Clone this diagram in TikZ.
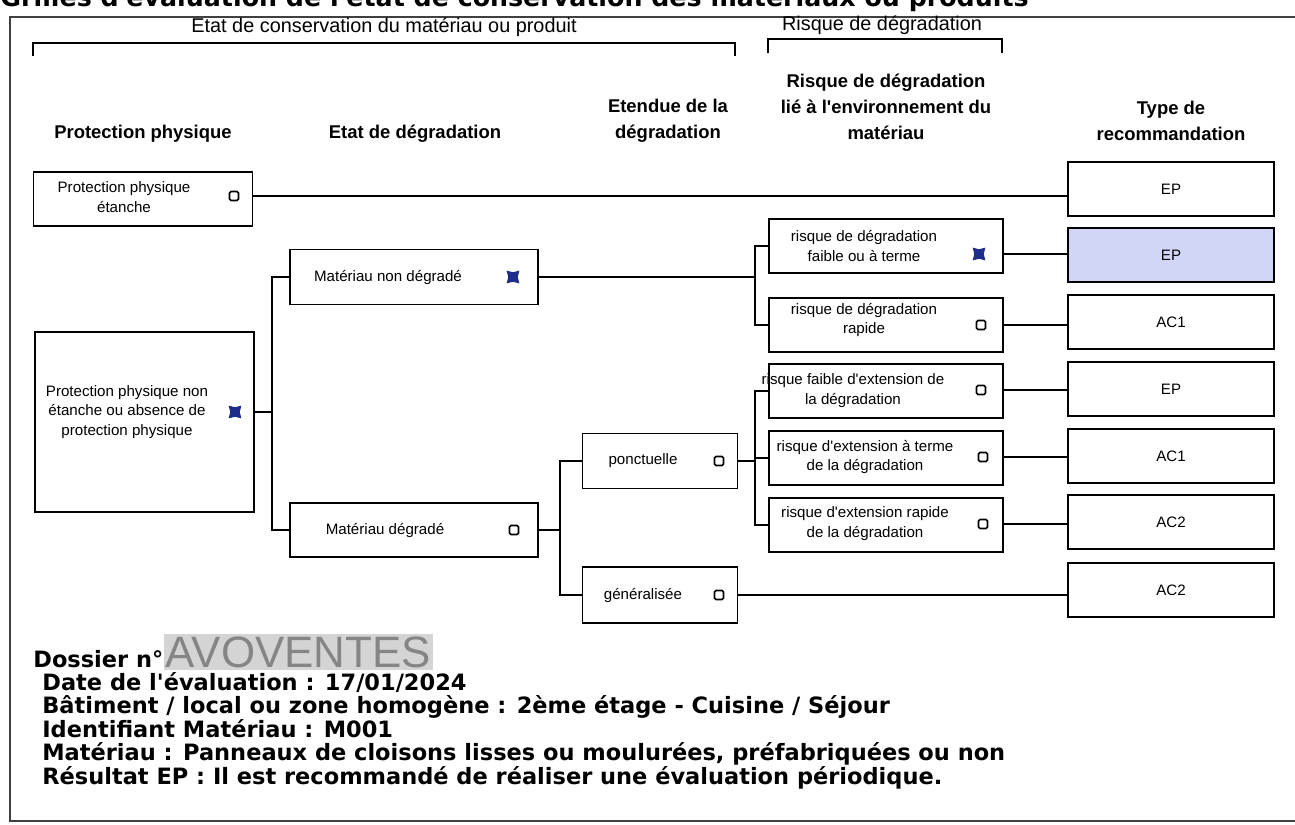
\documentclass[tikz,border=0pt]{standalone}
\usepackage{fontspec}
\newfontfamily\libsans{Liberation Sans}
\newfontfamily\verdfont{DejaVu Sans}
\usetikzlibrary{positioning,shapes.geometric}

\definecolor{xblue}{HTML}{1E2D8C}
\definecolor{epfill}{HTML}{D2D6F6}
\definecolor{avogray}{HTML}{D4D4D4}

\tikzset{
	box/.style={draw,line width=1.1pt,inner sep=0pt},
	rbox/.style={box,minimum width=4.68cm,minimum height=1.08cm},
	rec/.style={box,minimum width=4.12cm,minimum height=1.08cm,font=\libsans\fontsize{8.6}{11.3}\selectfont},
	btxt/.style={font=\libsans\fontsize{8.6}{11.3}\selectfont,align=center,inner sep=0pt},
	chk/.style={draw,line width=0.9pt,rounded corners=0.8pt,minimum size=0.18cm,inner sep=0pt},
	chkx/.style={star,star points=4,star point ratio=1.9,shape border rotate=45,fill=xblue,minimum size=0.36cm,inner sep=0pt},
	head/.style={font=\libsans\fontsize{10.5}{14.7}\selectfont\bfseries,align=center},
	brlab/.style={font=\libsans\fontsize{11.3}{13}\selectfont},
	link/.style={line width=1.1pt},
	info/.style={anchor=base west,inner sep=0pt,font=\verdfont\bfseries\fontsize{12.8}{15}\selectfont}
}

\begin{document}
\begin{tikzpicture}[x=0.02cm,y=-0.02cm]
				\useasboundingbox (0,0) rectangle (1295,825);

				% title, cut by the top of the page
				\node[info] (title) at (0,6) {\fontsize{14.4}{16}\selectfont Grilles d'évaluation de l'état de conservation des matériaux ou produits};
				\draw[line width=1pt,black!75] (10,17) rectangle (1310,821);

				% groups
				\node[brlab] (b1) at (384,27) {Etat de conservation du matériau ou produit};
				\node[brlab] (b2) at (882,25) {Risque de dégradation};
				\draw[link] (33,56) |- (735,43) -- (735,56);
				\draw[link] (768,53) |- (1002,39) -- (1002,53);

				% column heads
				\node[head] (h1) at (143,134) {Protection physique};
				\node[head] (h2) at (415,134) {Etat de dégradation};
				\node[head] (h3) at (668,121) {Etendue de la\\dégradation};
				\node[head] (h4) at (886,107) {Risque de dégradation\\lié à l'environnement du\\matériau};
				\node[head] (h5) at (1171,121) {Type de\\recommandation};

				% protection physique
				\node[box,minimum width=4.38cm,minimum height=1.08cm] (ppe) at (143,199) {};
				\node[btxt] (ppe-t) at (124,197) {Protection physique\\étanche};
				\node[chk] (ppe-c) at (234,196) {};
				\node[box,minimum width=4.38cm,minimum height=3.6cm] (ppn) at (144.5,422) {};
				\node[btxt] (ppn-t) at (127,412) {Protection physique non\\étanche ou absence de\\protection physique};
				\node[chkx] (ppn-c) at (235,412) {};

				% etat de degradation
				\node[box,minimum width=4.96cm,minimum height=1.1cm] (mnd) at (414,277) {};
				\node[btxt] (mnd-t) at (388,277) {Matériau non dégradé};
				\node[chkx] (mnd-c) at (513,277) {};
				\node[box,minimum width=4.96cm,minimum height=1.08cm] (md) at (414,530) {};
				\node[btxt] (md-t) at (385,530) {Matériau dégradé};
				\node[chk] (md-c) at (514,530) {};

				% etendue
				\node[box,minimum width=3.1cm,minimum height=1.1cm] (pon) at (660,461) {};
				\node[btxt] (pon-t) at (643,461) {ponctuelle};
				\node[chk] (pon-c) at (719,461) {};
				\node[box,minimum width=3.1cm,minimum height=1.12cm] (gen) at (660,595) {};
				\node[btxt] (gen-t) at (643,595) {généralisée};
				\node[chk] (gen-c) at (719,595) {};

				% risque
				\node[rbox] (k1) at (886,246) {};
				\node[btxt] (k1-t) at (864,246) {risque de dégradation\\faible ou à terme};
				\node[chkx] (k1-c) at (979,254) {};
				\node[rbox] (k2) at (886,325) {};
				\node[btxt] (k2-t) at (864,320) {risque de dégradation\\rapide};
				\node[chk] (k2-c) at (981,325) {};
				\node[rbox] (k3) at (886,391) {};
				\node[btxt] (k3-t) at (853,391) {risque faible d'extension de\\la dégradation};
				\node[chk] (k3-c) at (981,390) {};
				\node[rbox] (k4) at (886,458) {};
				\node[btxt] (k4-t) at (865,457) {risque d'extension à terme\\de la dégradation};
				\node[chk] (k4-c) at (983,457) {};
				\node[rbox] (k5) at (886,525) {};
				\node[btxt] (k5-t) at (865,524) {risque d'extension rapide\\de la dégradation};
				\node[chk] (k5-c) at (983,524) {};

				% recommandation
				\node[rec] (r1) at (1171,189) {EP};
				\node[rec,fill=epfill] (r2) at (1171,255) {EP};
				\node[rec] (r3) at (1171,322) {AC1};
				\node[rec] (r4) at (1171,389) {EP};
				\node[rec] (r5) at (1171,456) {AC1};
				\node[rec] (r6) at (1171,522) {AC2};
				\node[rec] (r7) at (1171,590) {AC2};

				\coordinate (j1) at (272,412);
				\coordinate (j2) at (755,277);
				\coordinate (j3) at (560,530);
				\coordinate (j4) at (755,461);
				\draw[link] (ppe-c -| ppe.east) -- (ppe-c -| r1.west);
				\draw[link] (ppn.east |- j1) -- (j1);
				\draw[link] (mnd.west) -| (j1) |- (md.west);
				\draw[link] (mnd.east) -- (j2);
				\draw[link] (k1.west) -| (j2) |- (k2.west);
				\draw[link] (md.east) -- (j3);
				\draw[link] (pon.west) -| (j3) |- (gen.west);
				\draw[link] (pon.east) -- (j4);
				\draw[link] (k3.west) -| (j4) |- (k5.west);
				\draw[link] (k4.west) -- (k4.west -| j4);
				\draw[link] (gen.east) -- (gen.east -| r7.west);
				\draw[link] (k1-c -| k1.east) -- (k1-c -| r2.west);
				\draw[link] (k2-c -| k2.east) -- (k2-c -| r3.west);
				\draw[link] (k3-c -| k3.east) -- (k3-c -| r4.west);
				\draw[link] (k4-c -| k4.east) -- (k4-c -| r5.west);
				\draw[link] (k5-c -| k5.east) -- (k5-c -| r6.west);

				% dossier
				\node[info] (dos) at (33,667) {Dossier n°};
				\node[info,fill=avogray,text=black!48,font=\libsans\fontsize{25}{25}\selectfont,inner xsep=1pt,inner ysep=1.4pt] (avo) at (dos.base east) {AVOVENTES};
				\node[info] (l1) at (42,690) {Date de l'évaluation : 17/01/2024};
				\node[info] (l2) at (42,713) {Bâtiment / local ou zone homogène : 2ème étage - Cuisine / Séjour};
				\node[info] (l3) at (42,737) {Identifiant Matériau : M001};
				\node[info] (l4) at (42,760) {Matériau : Panneaux de cloisons lisses ou moulurées, préfabriquées ou non};
				\node[info] (l5) at (42,784) {Résultat EP : Il est recommandé de réaliser une évaluation périodique.};
\end{tikzpicture}
\end{document}
